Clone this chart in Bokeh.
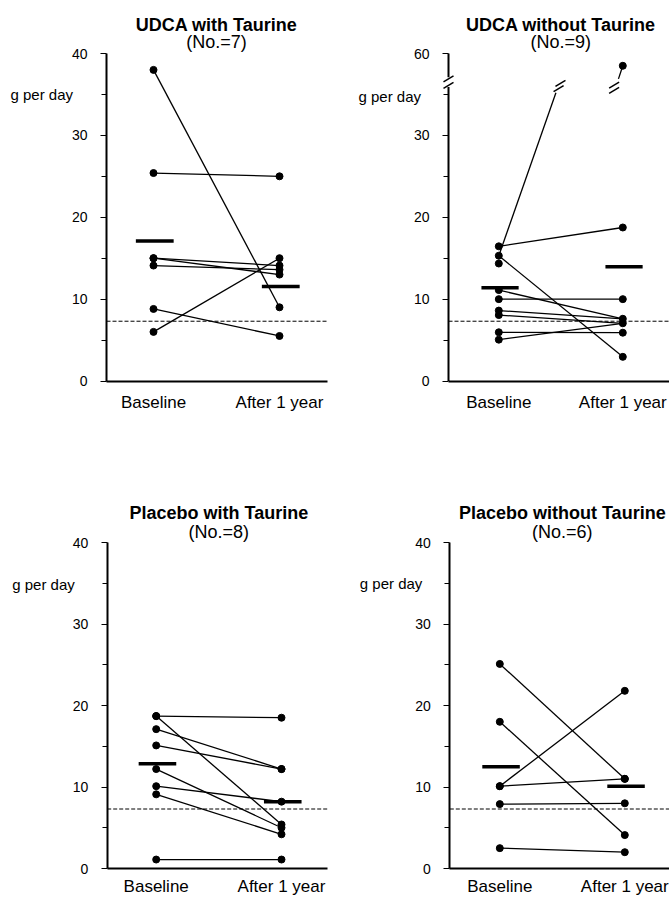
from bokeh.plotting import figure
from bokeh.models import Range1d, FixedTicker, Label
from bokeh.layouts import column, row
from bokeh.embed import file_html
from bokeh.resources import INLINE

FONT = "Liberation Sans"

# ---------------- data ----------------
categories = ["Baseline", "After 1 year"]
y_ticks = [0, 10, 20, 30, 40]
y_minor = [5, 15, 25, 35]
cutoff = 7.3

titles = ["UDCA with Taurine", "UDCA without Taurine",
          "Placebo with Taurine", "Placebo without Taurine"]
n_labels = ["(No.=7)", "(No.=9)", "(No.=8)", "(No.=6)"]

# UDCA with Taurine
udca_tau_base = [38.0, 25.4, 15.0, 15.0, 14.1, 8.8, 6.0]
udca_tau_after = [9.0, 25.0, 14.1, 13.0, 13.6, 5.5, 15.0]
udca_tau_means = [17.1, 11.55]

# UDCA without Taurine (one patient off scale: axis broken, top tick = 60)
udca_notau_base = [16.45, 15.3, 14.35, 11.1, 10.0, 8.6, 8.05, 5.95, 5.05]
udca_notau_after = [18.75, 10.0, 7.6, 7.05, 5.9, 2.95]
udca_notau_from = [16.45, 15.3, 11.1, 10.0, 8.6, 8.05, 5.95, 5.05]
udca_notau_to = [18.75, 2.95, 7.6, 10.0, 7.6, 7.05, 5.9, 7.05]
udca_notau_high_from = 15.3
udca_notau_high_to = 58.5
udca_notau_means = [11.4, 13.95]
udca_notau_top_label = 60

# Placebo with Taurine
plac_tau_base = [18.7, 18.7, 17.1, 15.1, 12.2, 10.1, 9.1, 1.1]
plac_tau_after = [18.5, 5.4, 12.2, 12.2, 5.0, 8.2, 4.2, 1.1]
plac_tau_means = [12.85, 8.2]

# Placebo without Taurine
plac_notau_base = [25.1, 18.0, 10.1, 10.1, 7.9, 2.5]
plac_notau_after = [11.0, 4.1, 21.8, 11.0, 8.0, 2.0]
plac_notau_means = [12.5, 10.1]


# ---------------- layout helpers ----------------
def geom(width, height, axis_px, base_px, after_px, top_px, zero_px, right_px):
    """pixel geometry (figure coords) -> data ranges"""
    ux = after_px - base_px
    uy = (zero_px - top_px) / 40.0
    x0 = 1 - base_px / ux
    x1 = x0 + width / ux
    y0 = -(height - zero_px) / uy
    y1 = 40 + top_px / uy
    axis_x = x0 + axis_px / ux
    x_right = x0 + right_px / ux
    return dict(width=width, height=height, xr=(x0, x1), yr=(y0, y1),
                axis_x=axis_x, x_right=x_right, ux=ux, uy=uy)


def make_panel(title, n_label, base_pts, after_pts, line_from, line_to, means, g,
               ylab_off, ylab_y, t_off, s_off, x_standoff, overrides=None, axis_line=True):
    p = figure(width=g["width"], height=g["height"], x_range=Range1d(*g["xr"]),
               y_range=Range1d(*g["yr"]), output_backend="svg", toolbar_location=None,
               min_border=0)
    p.min_border_left = 0
    p.min_border_right = 0
    p.min_border_top = 0
    p.min_border_bottom = 0
    p.outline_line_color = None
    p.xgrid.visible = False
    p.ygrid.visible = False
    p.background_fill_color = "white"
    p.border_fill_color = "white"
    ax = g["axis_x"]

    # y axis
    ya = p.yaxis[0]
    ya.fixed_location = ax
    ya.bounds = (0, 40)
    ya.ticker = FixedTicker(ticks=y_ticks, minor_ticks=y_minor)
    ya.major_tick_out = 6
    ya.major_tick_in = 0
    ya.minor_tick_out = 5
    ya.minor_tick_in = 0
    ya.major_tick_line_width = 1
    ya.minor_tick_line_width = 1
    ya.axis_line_width = 2
    ya.major_label_text_font = FONT
    ya.major_label_text_font_size = "14px"
    ya.major_label_standoff = 13
    ya.major_label_text_color = "black"
    if overrides:
        ya.major_label_overrides = overrides
    if not axis_line:
        ya.axis_line_color = None

    # x axis
    xa = p.xaxis[0]
    xa.fixed_location = 0
    xa.bounds = (ax, g["x_right"])
    xa.ticker = FixedTicker(ticks=[1, 2])
    xa.major_label_overrides = {1: categories[0], 2: categories[1]}
    xa.major_tick_line_color = None
    xa.minor_tick_line_color = None
    xa.major_tick_out = 0
    xa.major_tick_in = 0
    xa.axis_line_width = 2
    xa.major_label_text_font = FONT
    xa.major_label_text_font_size = "17px"
    xa.major_label_standoff = x_standoff
    xa.major_label_text_color = "black"

    # reference line
    p.segment(x0=[ax], y0=[cutoff], x1=[g["x_right"]], y1=[cutoff], line_color="black",
              line_width=1, line_dash="4 2")

    # patient lines
    p.segment(x0=[1] * len(line_from), y0=line_from, x1=[2] * len(line_to), y1=line_to,
              line_color="black", line_width=1.3)
    # points
    p.scatter(x=[1] * len(base_pts), y=base_pts, size=7, color="black")
    p.scatter(x=[2] * len(after_pts), y=after_pts, size=7, color="black")
    # means
    p.segment(x0=[1 - 0.14, 2 - 0.14], y0=means, x1=[1 + 0.16, 2 + 0.16], y1=means,
              line_color="black", line_width=3.5)

    # titles
    p.add_layout(Label(x=1.5, y=40, y_offset=t_off, text=title, text_align="center",
                       text_baseline="alphabetic", text_font=FONT, text_font_size="18px",
                       text_font_style="bold", text_color="black"))
    p.add_layout(Label(x=1.5, y=40, y_offset=s_off, text=n_label, text_align="center",
                       text_baseline="alphabetic", text_font=FONT, text_font_size="18px",
                       text_color="black"))
    # y label
    p.add_layout(Label(x=ax, y=ylab_y, x_offset=ylab_off, text="g per day",
                       text_align="left", text_baseline="middle", text_font=FONT,
                       text_font_size="15px", text_color="black"))
    return p


g1 = geom(334, 450, 106, 153, 279, 53, 380.5, 327)
g2 = geom(335, 450, 114, 164.3, 288.3, 53, 380.5, 335)
g3 = geom(334, 450, 106.7, 155.7, 281, 92, 418, 327)
g4 = geom(335, 450, 115.3, 165.3, 290.3, 92, 418, 335)

p1 = make_panel(titles[0], n_labels[0], udca_tau_base, udca_tau_after,
                udca_tau_base, udca_tau_after, udca_tau_means, g1, -96, 35, 29, 12, 12)

p2 = make_panel(titles[1], n_labels[1], udca_notau_base, udca_notau_after,
                udca_notau_from, udca_notau_to, udca_notau_means, g2, -90, 34.8, 29, 12, 12,
                overrides={40: str(udca_notau_top_label)}, axis_line=False)

# --- broken axis / broken line decorations for panel 2 ---
shift = udca_notau_top_label - 40          # upper segment offset
brk_lo, brk_hi = 35.9, 37.1               # axis gap
line_brk = 35.2                            # where the rising line is cut
ax_x = g2["axis_x"]
p2.segment(x0=[ax_x, ax_x], y0=[0, brk_hi], x1=[ax_x, ax_x], y1=[brk_lo, 40],
           line_color="black", line_width=2)
mdx, mdy = 5.0 / g2["ux"], 3.0 / g2["uy"]


def brk_mark(p, cx, cy):
    p.segment(x0=[cx - mdx], y0=[cy - mdy], x1=[cx + mdx], y1=[cy + mdy],
              line_color="black", line_width=1.5)


for cy in (36.1, 36.9):
    brk_mark(p2, ax_x, cy)

hf, ht = udca_notau_high_from, udca_notau_high_to
slope = 1.0 / (ht - hf)                    # x units per y unit on the rising line
x_cut = 1 + (line_brk - hf) * slope
p2.segment(x0=[1], y0=[hf], x1=[x_cut], y1=[line_brk], line_color="black", line_width=1.3)
for cy in (line_brk + 0.5, line_brk + 1.15):
    brk_mark(p2, 1 + (cy - hf) * slope + 0.01, cy)
high_plot = ht - shift
stub_end = 36.9
p2.segment(x0=[2], y0=[high_plot], x1=[2 - 0.035], y1=[stub_end], line_color="black",
           line_width=1.3)
for cy in (35.5, 36.15):
    brk_mark(p2, 1.93, cy)
p2.scatter(x=[2], y=[high_plot], size=7, color="black")

p3 = make_panel(titles[2], n_labels[2], plac_tau_base, plac_tau_after,
                plac_tau_base, plac_tau_after, plac_tau_means, g3, -95, 34.9, 30, 11, 8)

p4 = make_panel(titles[3], n_labels[3], plac_notau_base, plac_notau_after,
                plac_notau_base, plac_notau_after, plac_notau_means, g4, -90, 35, 30, 11, 8)

layout = column(row(p1, p2), row(p3, p4))
open("out.html", "w").write(file_html(layout, INLINE))
